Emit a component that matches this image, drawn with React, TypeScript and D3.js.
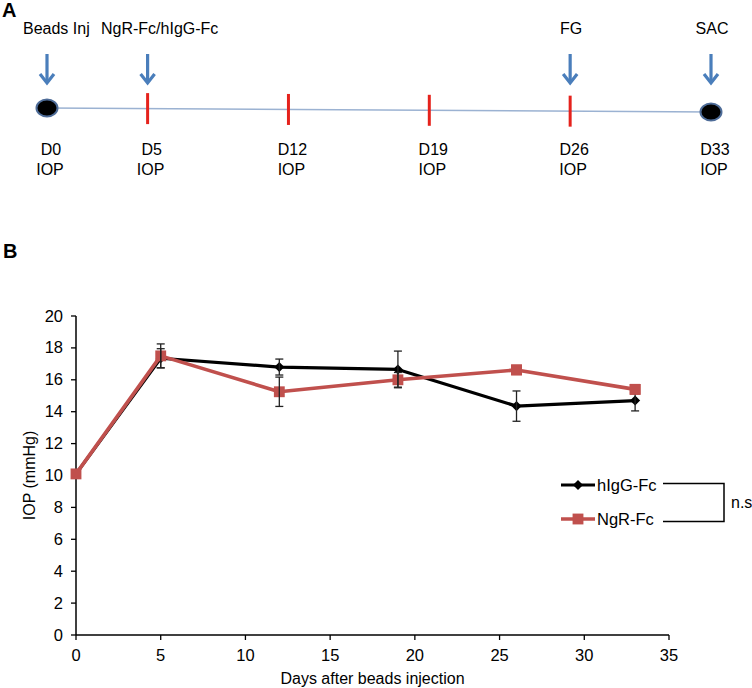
import React, { useEffect, useRef } from "react";
import * as d3 from "d3";

const days = [0, 5, 12, 19, 26, 33];
const hIgG = [10.1, 17.35, 16.8, 16.65, 14.35, 14.7];
const hIgGErr = [0.1, 0.6, 0.5, 1.15, 0.95, 0.65];
const ngr = [10.1, 17.5, 15.25, 16.0, 16.62, 15.4];
const ngrErr = [0.1, 0.75, 0.92, 0.46, 0.2, 0.2];
const xTicks = [0, 5, 10, 15, 20, 25, 30, 35];
const yTicks = [0, 2, 4, 6, 8, 10, 12, 14, 16, 18, 20];

const timelineDays = [0, 5, 12, 19, 26, 33];
const timelineLabels = ["D0", "D5", "D12", "D19", "D26", "D33"];
const eventDays = [0, 5, 26, 33];
const eventLabels = ["Beads Inj", "NgR-Fc/hIgG-Fc", "FG", "SAC"];
const seriesNames = ["hIgG-Fc", "NgR-Fc"];
const sigLabel = "n.s";

const FONT = "'Liberation Sans', Arial, sans-serif";

export default function App() {
  const ref = useRef<SVGSVGElement>(null);

  useEffect(() => {
    const svg = d3.select(ref.current);
    svg.selectAll("*").remove();

    svg.append("text").attr("x", 2).attr("y", 17).text("A")
      .attr("font-family", FONT).attr("font-weight", "bold").attr("font-size", 20);
    svg.append("text").attr("x", 3).attr("y", 258).text("B")
      .attr("font-family", FONT).attr("font-weight", "bold").attr("font-size", 20);

    // ---------- Panel A: timeline ----------
    const tx = d3.scaleLinear().domain([0, 33]).range([47, 711]);
    const ty = d3.scaleLinear().domain([0, 33]).range([108, 112]);
    const tl = svg.append("g");
    tl.append("line")
      .attr("x1", tx(0)).attr("x2", tx(33))
      .attr("y1", ty(0)).attr("y2", ty(33))
      .attr("stroke", "#9BB2D2").attr("stroke-width", 1.6);

    timelineDays.forEach((d, i) => {
      const x = tx(d), y = ty(d);
      if (i === 0 || i === timelineDays.length - 1) {
        tl.append("ellipse").attr("cx", x).attr("cy", y).attr("rx", 10.5).attr("ry", 8.5)
          .attr("fill", "#000").attr("stroke", "#4E6C98").attr("stroke-width", 2);
      } else {
        tl.append("line").attr("x1", x).attr("x2", x)
          .attr("y1", y - 15.5).attr("y2", y + 15.5)
          .attr("stroke", "#E5221C").attr("stroke-width", 3);
      }
      tl.append("text").attr("x", x + 4).attr("y", 155).attr("text-anchor", "middle")
        .attr("font-family", FONT).attr("font-size", 16).text(timelineLabels[i]);
      tl.append("text").attr("x", x + 3).attr("y", 175).attr("text-anchor", "middle")
        .attr("font-family", FONT).attr("font-size", 16).text("IOP");
    });

    eventDays.forEach((d, i) => {
      const x = tx(d);
      const g = tl.append("g");
      g.append("line").attr("x1", x).attr("x2", x).attr("y1", 54).attr("y2", 82)
        .attr("stroke", "#4A7EBB").attr("stroke-width", 3.2);
      g.append("path").attr("d", `M${x - 7},74 L${x},83 L${x + 7},74`)
        .attr("fill", "none").attr("stroke", "#4A7EBB").attr("stroke-width", 3.2)
        .attr("stroke-linejoin", "miter");
      const anchor = i <= 1 ? "start" : "middle";
      const lx = i === 0 ? 23 : i === 1 ? 101 : x + 1;
      g.append("text").attr("x", lx).attr("y", 34).attr("text-anchor", anchor)
        .attr("font-family", FONT).attr("font-size", 16).text(eventLabels[i]);
    });

    // ---------- Panel B: line chart ----------
    const x = d3.scaleLinear().domain([0, 35]).range([76, 669]);
    const y = d3.scaleLinear().domain([0, 20]).range([635, 316]);

    const ax = svg.append("g");
    ax.append("line").attr("x1", x(0)).attr("x2", x(0)).attr("y1", y(0)).attr("y2", y(20))
      .attr("stroke", "#000").attr("stroke-width", 1.5);
    yTicks.forEach(t => {
      ax.append("line").attr("x1", x(0) - 5).attr("x2", x(0)).attr("y1", y(t)).attr("y2", y(t))
        .attr("stroke", "#000").attr("stroke-width", 1.3);
      ax.append("text").attr("x", 63).attr("y", y(t) + 5.5).attr("text-anchor", "end")
        .attr("font-family", FONT).attr("font-size", 16.5).text(String(t));
    });
    ax.append("line").attr("x1", x(0)).attr("x2", x(35)).attr("y1", y(0)).attr("y2", y(0))
      .attr("stroke", "#000").attr("stroke-width", 1.5);
    xTicks.forEach(t => {
      ax.append("line").attr("x1", x(t)).attr("x2", x(t)).attr("y1", y(0)).attr("y2", y(0) + 5)
        .attr("stroke", "#000").attr("stroke-width", 1.3);
      ax.append("text").attr("x", x(t)).attr("y", 661).attr("text-anchor", "middle")
        .attr("font-family", FONT).attr("font-size", 16.5).text(String(t));
    });
    ax.append("text").attr("x", (x(0) + x(35)) / 2).attr("y", 684).attr("text-anchor", "middle")
      .attr("font-family", FONT).attr("font-size", 16).text("Days after beads injection");
    ax.append("text")
      .attr("transform", `translate(35,${(y(0) + y(20)) / 2}) rotate(-90)`)
      .attr("text-anchor", "middle")
      .attr("font-family", FONT).attr("font-size", 16).text("IOP (mmHg)");

    const line = d3.line<number>().x((_, i) => x(days[i])).y(v => y(v));
    const series = [
      { vals: hIgG, err: hIgGErr, color: "#000000", marker: "diamond", width: 3.2 },
      { vals: ngr, err: ngrErr, color: "#C0504D", marker: "square", width: 3.6 },
    ];
    const diamond = d3.symbol().type(d3.symbolDiamond2).size(65);
    const square = d3.symbol().type(d3.symbolSquare2).size(150);

    const plot = svg.append("g");
    series.forEach(s => {
      plot.append("path").attr("d", line(s.vals)!).attr("fill", "none")
        .attr("stroke", s.color).attr("stroke-width", s.width).attr("stroke-linejoin", "round");
      s.vals.forEach((v, i) => {
        plot.append("path")
          .attr("d", (s.marker === "diamond" ? diamond : square)()!)
          .attr("transform", `translate(${x(days[i])},${y(v)})`)
          .attr("fill", s.color).attr("stroke", "none");
      });
    });
    series.forEach(s => {
      s.vals.forEach((v, i) => {
        if (i === 0) return;
        const cx = x(days[i]);
        const top = y(v + s.err[i]), bot = y(v - s.err[i]);
        plot.append("line").attr("x1", cx).attr("x2", cx).attr("y1", top).attr("y2", bot)
          .attr("stroke", "#222").attr("stroke-width", 1.3);
        [top, bot].forEach(yy => {
          plot.append("line").attr("x1", cx - 4).attr("x2", cx + 4).attr("y1", yy).attr("y2", yy)
            .attr("stroke", "#222").attr("stroke-width", 1.3);
        });
      });
    });
    // redraw the markers whose small error bars sit inside them
    series.forEach(s => {
      s.vals.forEach((v, i) => {
        if (s.marker !== "square" || i < 4) return;
        plot.append("path").attr("d", square()!)
          .attr("transform", `translate(${x(days[i])},${y(v)})`)
          .attr("fill", s.color);
      });
    });

    // Legend
    const lg = svg.append("g");
    const legY = [485, 519];
    series.forEach((s, i) => {
      lg.append("line").attr("x1", 561).attr("x2", 595).attr("y1", legY[i]).attr("y2", legY[i])
        .attr("stroke", s.color).attr("stroke-width", s.width);
      lg.append("path")
        .attr("d", (s.marker === "diamond" ? diamond : square)()!)
        .attr("transform", `translate(578,${legY[i]})`)
        .attr("fill", s.color);
      lg.append("text").attr("x", 597).attr("y", legY[i] + 6)
        .attr("font-family", FONT).attr("font-size", 16.5).text(seriesNames[i]);
    });
    lg.append("path").attr("d", "M663,483.5 H724 V521.5 H663")
      .attr("fill", "none").attr("stroke", "#000").attr("stroke-width", 1.5);
    lg.append("text").attr("x", 731).attr("y", 508)
      .attr("font-family", FONT).attr("font-size", 16).text(sigLabel);
  }, []);

  return (
    <svg ref={ref} width={752} height={688}
      style={{ position: "absolute", left: 0, top: 0, background: "#fff" }} />
  );
}
